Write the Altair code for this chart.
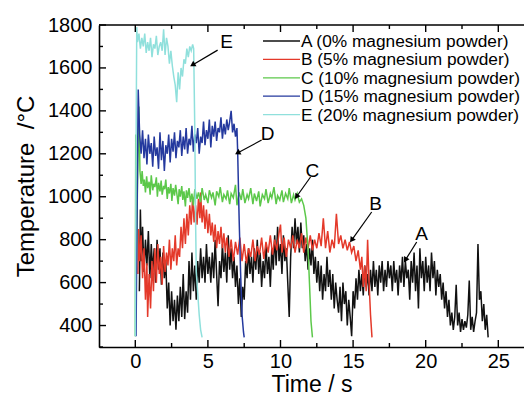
import altair as alt
import pandas as pd

FONT = "Liberation Sans"

names = ["A (0% magnesium powder)", "B (5% magnesium powder)", "C (10% magnesium powder)",
         "D (15% magnesium powder)", "E (20% magnesium powder)"]
colors = ["#111111", "#e4392a", "#5cc84a", "#24399e", "#90e0dc"]

A_pts = [(0.28,560),(0.35,940),(0.42,700),(0.5,860),(0.6,650),(0.7,800),(0.8,680),(0.9,840),(1.0,620),(1.1,780),
         (1.2,650),(1.3,760),(1.4,600),(1.5,800),(1.6,660),(1.7,760),(1.8,590),(1.9,740),(2.0,620),(2.1,700),
         (2.2,480),(2.3,600),(2.4,400),(2.5,560),(2.6,420),(2.7,520),(2.8,380),(2.9,540),(3.0,420),(3.1,580),
         (3.2,440),(3.3,640),(3.4,430),(3.5,560),(3.6,460),(3.7,700),(3.8,520),(3.9,740),(4.0,560),(4.1,680),
         (4.2,520),(4.3,700),(4.4,600),(4.5,760),(4.6,620),(4.7,720),(4.8,600),(4.9,780),(5.0,640),(5.1,720),
         (5.2,600),(5.3,740),(5.4,620),(5.5,800),(5.6,640),(5.7,490),(5.8,700),(5.9,620),(6.0,780),(6.1,650),
         (6.2,740),(6.3,600),(6.4,820),(6.5,660),(6.6,760),(6.7,620),(6.8,720),(6.9,580),(7.0,680),(7.1,500),
         (7.2,620),(7.3,440),(7.4,580),(7.5,520),(7.6,700),(7.7,620),(7.8,760),(7.9,640),(8.0,720),(8.1,600),
         (8.2,760),(8.3,660),(8.4,800),(8.5,640),(8.6,740),(8.7,580),(8.8,700),(8.9,620),(9.0,780),(9.1,640),
         (9.2,720),(9.3,580),(9.4,760),(9.5,660),(9.6,820),(9.7,680),(9.8,860),(9.9,700),(10.0,780),(10.1,640),
         (10.2,820),(10.3,700),(10.4,760),(10.5,600),(10.6,440),(10.7,720),(10.8,860),(10.9,760),(11.0,900),(11.1,780),
         (11.2,860),(11.3,740),(11.4,880),(11.5,760),(11.6,820),(11.7,700),(11.8,780),(11.9,660),(12.0,760),(12.1,680),
         (12.2,800),(12.3,640),(12.4,720),(12.5,600),(12.6,700),(12.7,560),(12.8,680),(12.9,520),(13.0,640),(13.1,560),
         (13.2,720),(13.3,580),(13.4,660),(13.5,520),(13.6,640),(13.7,480),(13.8,600),(13.9,520),(14.0,460),(14.1,580),
         (14.2,420),(14.3,600),(14.4,500),(14.5,560),(14.6,400),(14.7,520),(14.8,440),(14.9,350),(15.0,560),(15.1,480),
         (15.2,620),(15.3,520),(15.4,660),(15.5,560),(15.6,640),(15.7,540),(15.8,680),(15.9,580),(16.0,640),(16.1,540),
         (16.2,660),(16.3,560),(16.4,700),(16.5,580),(16.6,660),(16.7,540),(16.8,680),(16.9,600),(17.0,700),(17.1,560),
         (17.2,660),(17.3,580),(17.4,700),(17.5,620),(17.6,680),(17.7,560),(17.8,700),(17.9,600),(18.0,660),(18.1,540),
         (18.2,680),(18.3,600),(18.4,720),(18.5,580),(18.6,700),(18.7,620),(18.8,660),(18.9,520),(19.0,700),(19.1,600),
         (19.2,740),(19.3,560),(19.4,680),(19.5,480),(19.6,760),(19.7,620),(19.8,700),(19.9,560),(20.0,720),(20.1,600),
         (20.2,680),(20.3,560),(20.4,740),(20.5,620),(20.6,700),(20.7,540),(20.8,660),(20.9,580),(21.0,640),(21.1,520),
         (21.2,600),(21.3,480),(21.4,560),(21.5,440),(21.6,520),(21.7,400),(21.8,460),(21.9,380),(22.0,440),(22.1,590),
         (22.2,400),(22.3,460),(22.4,370),(22.5,430),(22.6,380),(22.7,420),(22.8,390),(22.9,450),(23.0,610),(23.1,380),
         (23.2,440),(23.3,370),(23.4,420),(23.5,460),(23.6,780),(23.7,520),(23.8,560),(23.9,420),(24.0,500),(24.1,380),
         (24.2,450),(24.3,345)]

B_pts = [(0.18,640),(0.22,850),(0.3,700),(0.4,820),(0.5,620),(0.6,760),(0.7,520),(0.8,690),(0.85,440),(0.95,640),
         (1.05,480),(1.15,700),(1.25,560),(1.35,760),(1.45,600),(1.55,780),(1.65,640),(1.75,720),(1.85,590),(1.95,770),
         (2.05,650),(2.15,740),(2.25,680),(2.35,800),(2.45,660),(2.55,760),(2.65,700),(2.75,820),(2.85,680),(2.95,760),
         (3.05,720),(3.15,860),(3.25,760),(3.35,900),(3.45,780),(3.55,920),(3.65,820),(3.75,960),(3.85,870),(3.95,1000),
         (4.05,880),(4.15,960),(4.25,870),(4.35,990),(4.45,900),(4.5,1020),(4.6,880),(4.7,960),(4.8,850),(4.9,940),
         (5.0,830),(5.1,920),(5.2,820),(5.3,880),(5.4,790),(5.5,870),(5.6,760),(5.7,840),(5.8,780),(5.9,860),
         (6.0,760),(6.1,830),(6.2,740),(6.3,810),(6.45,720),(6.6,800),(6.75,700),(6.9,790),(7.05,730),(7.2,810),
         (7.35,700),(7.5,780),(7.65,690),(7.8,760),(7.95,720),(8.1,800),(8.25,700),(8.4,770),(8.55,730),(8.7,810),
         (8.85,710),(9.0,790),(9.15,740),(9.3,820),(9.45,730),(9.6,800),(9.75,750),(9.9,830),(10.0,870),(10.1,740),
         (10.25,810),(10.4,720),(10.55,800),(10.7,760),(10.85,820),(11.0,740),(11.15,800),(11.3,760),(11.45,830),(11.6,740),
         (11.75,810),(11.9,760),(12.05,820),(12.2,750),(12.35,800),(12.5,760),(12.65,830),(12.8,770),(12.95,900),(13.1,760),
         (13.25,840),(13.4,740),(13.55,800),(13.7,760),(13.85,920),(14.0,780),(14.15,820),(14.3,760),(14.45,800),(14.6,750),
         (14.75,790),(14.9,740),(15.05,770),(15.2,700),(15.35,750),(15.5,660),(15.6,720),(15.7,580),(15.8,680),(15.9,560),
         (16.0,800),(16.1,600),(16.2,450),(16.3,345)]

C_pts = [(0.0,350),(0.03,1290),(0.08,700),(0.15,1050),(0.25,1420),(0.32,1120),(0.4,1060),(0.47,1120),(0.55,1050),(0.62,1080),
         (0.7,1020),(0.78,1095),(0.85,1040),(0.95,1070),(1.02,1010),(1.1,1100),(1.2,1030),(1.27,1060),(1.35,1045),(1.45,1090),
         (1.52,1000),(1.6,1065),(1.7,1025),(1.78,1075),(1.85,1010),(1.95,1050),(2.02,1035),(2.1,1080),(2.2,990),(2.27,1045),
         (2.35,1015),(2.45,1060),(2.52,980),(2.6,1040),(2.7,1005),(2.78,1055),(2.85,1020),(2.95,965),(3.02,1035),(3.1,1000),
         (3.2,1050),(3.27,985),(3.35,1025),(3.45,955),(3.52,1030),(3.6,995),(3.7,1040),(3.8,975),(3.9,1015),(4.0,960),
         (4.1,1035),(4.25,990),(4.35,1020),(4.5,975),(4.6,1040),(4.75,985),(4.85,1010),(5.0,970),(5.1,1030),(5.25,995),
         (5.35,1020),(5.5,960),(5.6,1025),(5.75,1000),(5.85,1045),(6.0,975),(6.1,1010),(6.25,990),(6.35,1030),(6.5,965),
         (6.6,1015),(6.75,995),(6.9,1055),(7.0,960),(7.15,1020),(7.3,985),(7.4,1035),(7.55,970),(7.7,1010),(7.8,990),
         (7.95,1040),(8.1,965),(8.2,1015),(8.35,980),(8.5,1025),(8.6,955),(8.75,1010),(8.9,990),(9.0,1035),(9.15,970),
         (9.3,1015),(9.4,995),(9.55,1045),(9.7,965),(9.8,1005),(9.95,985),(10.1,1030),(10.2,975),(10.35,1015),(10.5,990),
         (10.6,1040),(10.75,970),(10.9,1010),(11.0,985),(11.15,1015),(11.3,975),(11.45,990),(11.6,960),(11.75,900),(11.9,750),
         (12.0,590),(12.1,420),(12.2,345)]

D_pts = [(0.05,350),(0.12,900),(0.2,1500),(0.3,1290),(0.4,1200),(0.5,1310),(0.6,1180),(0.7,1270),(0.8,1150),(0.9,1290),
         (1.0,1200),(1.1,1250),(1.2,1140),(1.3,1280),(1.4,1190),(1.5,1230),(1.6,1130),(1.7,1300),(1.8,1170),(1.9,1260),
         (2.0,1120),(2.1,1240),(2.2,1200),(2.3,1290),(2.4,1160),(2.5,1270),(2.6,1210),(2.7,1300),(2.8,1180),(2.9,1260),
         (3.0,1230),(3.1,1310),(3.2,1190),(3.3,1280),(3.4,1220),(3.5,1320),(3.6,1200),(3.7,1270),(3.8,1240),(3.9,1330),
         (4.0,1210),(4.1,1290),(4.2,1250),(4.3,1320),(4.4,1200),(4.5,1280),(4.6,1250),(4.7,1350),(4.8,1240),(4.9,1310),
         (5.0,1270),(5.1,1360),(5.2,1230),(5.3,1330),(5.4,1280),(5.5,1350),(5.6,1260),(5.7,1320),(5.8,1300),(5.9,1370),
         (6.0,1270),(6.1,1340),(6.2,1290),(6.3,1360),(6.4,1310),(6.5,1350),(6.6,1400),(6.7,1300),(6.8,1340),(6.9,1280),
         (7.0,1320),(7.05,1210),(7.15,900),(7.25,650),(7.35,450),(7.45,370),(7.5,345)]

E_pts = [(0.0,350),(0.05,1200),(0.1,1790),(0.15,1720),(0.25,1760),(0.35,1690),(0.45,1740),(0.55,1700),(0.65,1760),(0.75,1670),
         (0.85,1720),(0.95,1680),(1.05,1740),(1.15,1650),(1.25,1710),(1.35,1690),(1.45,1750),(1.55,1660),(1.65,1700),(1.75,1720),
         (1.85,1680),(1.95,1780),(2.05,1660),(2.15,1740),(2.25,1700),(2.35,1620),(2.45,1680),(2.55,1610),(2.65,1560),(2.75,1520),
         (2.85,1440),(2.95,1580),(3.05,1500),(3.15,1600),(3.25,1560),(3.35,1640),(3.45,1620),(3.55,1690),(3.65,1650),(3.75,1700),
         (3.85,1680),(3.95,1710),(4.02,1690),(4.1,1300),(4.15,900),(4.2,650),(4.3,550),(4.4,450),(4.5,380),(4.6,345)]

x_labels = [0, 5, 10, 15, 20, 25]
x_minor = [2.5, 7.5, 12.5, 17.5, 22.5]
y_labels = [400, 600, 800, 1000, 1200, 1400, 1600, 1800]
y_minor = [300, 500, 700, 900, 1100, 1300, 1500, 1700]

ann_labels = ["A", "B", "C", "D", "E"]
ann_text_t = [19.72, 16.55, 12.2, 9.11, 6.29]
ann_text_v = [826, 966, 1120, 1292, 1721]
ann_tail_t = [19.38, 16.28, 12.07, 8.7, 5.67]
ann_tail_v = [789, 929, 1092, 1264, 1683]
ann_head_t = [18.6, 14.9, 11.1, 7.04, 3.94]
ann_head_v = [705, 798, 1000, 1204, 1614]
ann_angle = [211, 215, 215, 242, 239]

W, H = 425, 322
xscale = alt.Scale(domain=[-2.5, 26.77], nice=False, zero=False)
yscale = alt.Scale(domain=[300, 1800], nice=False, zero=False)
XAX = alt.Axis(values=x_labels, title="Time / s", ticks=False, labelPadding=4, titlePadding=2,
               format="d", titleFontSize=23)
YAX = alt.Axis(values=y_labels, title="Temperature\u00a0 /°C", ticks=False, labelPadding=7,
               titlePadding=9, format="d", titleFontSize=24)

rows = []
for name, pts in zip(names, [A_pts, B_pts, C_pts, D_pts, E_pts]):
    for i, (t, v) in enumerate(pts):
        rows.append({"series": name, "t": t, "v": v, "i": i})
df = pd.DataFrame(rows)

lines = alt.Chart(df).mark_line(strokeWidth=1.5, clip=True).encode(
    x=alt.X("t:Q", scale=xscale, axis=XAX),
    y=alt.Y("v:Q", scale=yscale, axis=YAX),
    color=alt.Color("series:N", scale=alt.Scale(domain=names, range=colors), legend=None),
    order="i:Q",
)

def tick_layer(vals, axis_ch, length, side):
    d = pd.DataFrame({"p": vals})
    if axis_ch == "x":
        if side == "bottom":
            enc = dict(x=alt.X("p:Q", scale=xscale, axis=XAX), y=alt.value(H), y2=alt.value(H - length))
        else:
            enc = dict(x=alt.X("p:Q", scale=xscale, axis=XAX), y=alt.value(0), y2=alt.value(length))
    else:
        enc = dict(y=alt.Y("p:Q", scale=yscale, axis=YAX), x=alt.value(0), x2=alt.value(length))
    return alt.Chart(d).mark_rule(color="black", strokeWidth=1.4).encode(**enc)

ticks = [
    tick_layer(x_labels, "x", 7, "bottom"), tick_layer(x_minor, "x", 4, "bottom"),
    tick_layer(x_labels, "x", 7, "top"), tick_layer(x_minor, "x", 4, "top"),
    tick_layer(y_labels, "y", 7, "left"), tick_layer(y_minor, "y", 4, "left"),
]

top_line = alt.Chart(pd.DataFrame({"k": [0]})).mark_rule(color="black", strokeWidth=1.6).encode(
    x=alt.value(0), x2=alt.value(W), y=alt.value(0))

# legend drawn by hand so that the rows sit close together like the reference
legend_layers = []
for k, (name, col) in enumerate(zip(names, colors)):
    ry = 16.0 + 18.4 * k
    legend_layers.append(alt.Chart(pd.DataFrame({"k": [k]})).mark_rule(color=col, strokeWidth=1.3).encode(
        x=alt.value(164), x2=alt.value(201), y=alt.value(ry)))
    legend_layers.append(alt.Chart(pd.DataFrame({"k": [k]})).mark_text(
        font=FONT, fontSize=17.3, color="black", align="left", baseline="middle").encode(
        x=alt.value(202), y=alt.value(ry + 1), text=alt.value(name)))

ann = pd.DataFrame({"lab": ann_labels, "lt": ann_text_t, "lv": ann_text_v, "tt": ann_tail_t,
                    "tv": ann_tail_v, "ht": ann_head_t, "hv": ann_head_v, "ang": ann_angle})
ann_text = alt.Chart(ann).mark_text(font=FONT, fontSize=19, color="black", align="center",
                                    baseline="middle").encode(
    x=alt.X("lt:Q", scale=xscale, axis=XAX), y=alt.Y("lv:Q", scale=yscale, axis=YAX), text="lab:N")
ann_line = alt.Chart(ann).mark_rule(color="black", strokeWidth=1.2).encode(
    x=alt.X("tt:Q", scale=xscale, axis=XAX), x2="ht:Q",
    y=alt.Y("tv:Q", scale=yscale, axis=YAX), y2="hv:Q")
ann_head = alt.Chart(ann).mark_point(shape="triangle-up", filled=True, size=40, color="black",
                                     opacity=1).encode(
    x=alt.X("ht:Q", scale=xscale, axis=XAX), y=alt.Y("hv:Q", scale=yscale, axis=YAX),
    angle=alt.Angle("ang:Q", scale=None))

chart = alt.layer(lines, *ticks, top_line, ann_line, ann_head, ann_text, *legend_layers).properties(
    width=W, height=H,
    autosize=alt.AutoSizeParams(type="none"),
    padding={"left": 91, "top": 17, "right": 0, "bottom": 50},
).configure_view(stroke=None).configure_axis(
    domainColor="black", domainWidth=1.6, grid=False, labelFont=FONT, titleFont=FONT,
    labelFontSize=20, labelColor="black", titleColor="black",
    titleFontWeight="normal",
)

chart.save("out.html", embed_options={"renderer": "svg", "actions": False})
